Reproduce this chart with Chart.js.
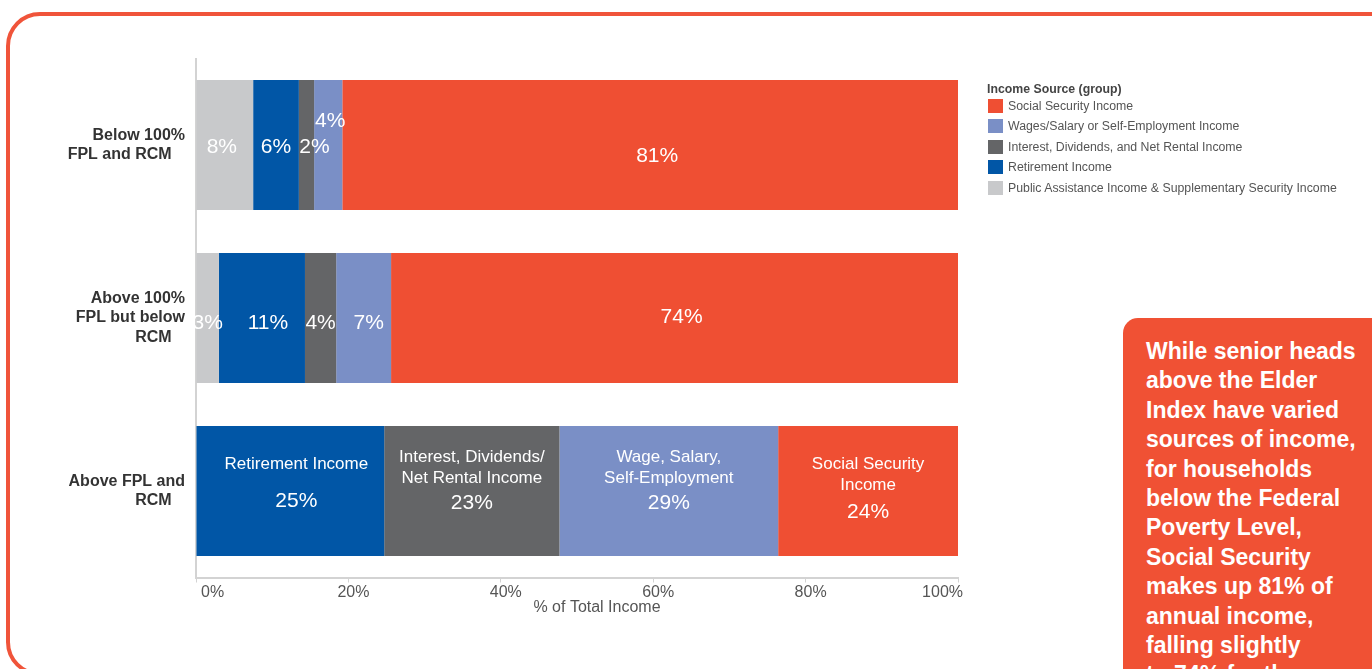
<!DOCTYPE html>
<html>
<head>
<meta charset="utf-8">
<title>Income Source by Elder Index Group</title>
<script src="https://cdn.jsdelivr.net/npm/chart.js@4.4.1/dist/chart.umd.min.js"></script>
<style>
  html, body { margin: 0; padding: 0; width: 1372px; height: 669px; overflow: hidden; background: #fff;
    font-family: Arial, "Liberation Sans", sans-serif; }
  #frame { position: absolute; left: 6px; top: 12px; width: 1420px; height: 664px; box-sizing: border-box;
    border: 4.5px solid #F0543A; border-radius: 34px; }
  #chart { position: absolute; left: 0; top: 0; }
  #legend { position: absolute; left: 987px; top: 83px; color: #555; font-size: 12.3px; }
  #legend .title { font-weight: bold; color: #444; height: 13px; line-height: 13px; margin-bottom: -0.8px; }
  #legend .item { display: flex; align-items: center; height: 20.6px; }
  #legend .sw { width: 15px; height: 14px; margin-left: 1px; margin-right: 5px; }
  #callout { position: absolute; left: 1123px; top: 318px; width: 320px; height: 420px; box-sizing: border-box;
    background: #F05134; border-radius: 15px 0 0 0; color: #fff; font-weight: bold; font-size: 23px;
    line-height: 29.4px; padding: 19px 0 0 23px; white-space: nowrap; }
</style>
</head>
<body>
<div id="frame"></div>
<canvas id="chart" width="1372" height="669"></canvas>
<div id="legend"></div>
<div id="callout"></div>
<script>
// Household groups (y axis), one multi-line label per bar
const categories = [
  ["Below 100%", "FPL and RCM   "],
  ["Above 100%", "FPL but below", "RCM   "],
  ["Above FPL and", "RCM   "]
];

// Share of total income (%) by source, in stacking order left to right
const publicAssistance = [7.5, 3.0, 0];
const retirement       = [6.0, 11.3, 24.7];
const interest         = [2.0, 4.1, 23.0];
const wages            = [3.7, 7.2, 28.7];
const socialSecurity   = [80.8, 74.4, 23.6];

const seriesNames = [
  "Public Assistance Income & Supplementary Security Income",
  "Retirement Income",
  "Interest, Dividends, and Net Rental Income",
  "Wages/Salary or Self-Employment Income",
  "Social Security Income"
];
const seriesColors = ["#C8C9CB", "#0156A6", "#646567", "#7A8FC6", "#EF4F33"];

// In-bar captions for the "Above FPL and RCM" bar
const aboveRcmCaptions = [
  [],
  ["Retirement Income"],
  ["Interest, Dividends/", "Net Rental Income"],
  ["Wage, Salary,", "Self-Employment"],
  ["Social Security", "Income"]
];

const xTicks = [0, 20, 40, 60, 80, 100];
const legendTitle = "Income Source (group)";
const axisTitle = "% of Total Income";
const calloutLines = [
  "While senior heads", "above the Elder", "Index have varied", "sources of income,",
  "for households", "below the Federal", "Poverty Level,", "Social Security",
  "makes up 81% of", "annual income,", "falling slightly", "to 74% for those"
];

const FONT = 'Arial, "Liberation Sans", sans-serif';

// label nudges [row][series] -> [dx, dy] so small segments don't collide
const labelNudge = [
  [[-3, 2.5], [0, 2.5], [8, 2.5], [2, -23.5], [7, 11.5]],
  [[0, 5.5], [6, 5.5], [0, 5.5], [5, 5.5], [7, -0.5]],
  [[0, 0], [0, 0], [0, 0], [0, 0], [0, 0]]
];
// caption layout for the third bar: first line offset, pct offset, dx
const captionLayout = [
  null,
  { lines: -27, pct: 10, dx: 6 },
  { lines: -34, pct: 12, dx: 0 },
  { lines: -34, pct: 12, dx: 0 },
  { lines: -27, pct: 21, dx: 0 }
];

const seriesValues = [publicAssistance, retirement, interest, wages, socialSecurity];

const segmentLabels = {
  id: 'segmentLabels',
  afterDatasetsDraw(chart) {
    const ctx = chart.ctx;
    ctx.save();
    ctx.fillStyle = '#fff';
    ctx.textAlign = 'center';
    ctx.textBaseline = 'middle';
    chart.data.datasets.forEach((ds, di) => {
      const meta = chart.getDatasetMeta(di);
      meta.data.forEach((bar, ri) => {
        const v = ds.data[ri];
        if (!v) return;
        const cx = (bar.base + bar.x) / 2;
        const cy = bar.y;
        const pct = Math.round(v) + '%';
        if (ri === 2) {
          const lay = captionLayout[di];
          ctx.font = '17px ' + FONT;
          aboveRcmCaptions[di].forEach((t, li) => {
            ctx.fillText(t, cx + lay.dx, cy + lay.lines + li * 21);
          });
          ctx.font = '21px ' + FONT;
          ctx.fillText(pct, cx + lay.dx, cy + lay.pct);
        } else {
          const [dx, dy] = labelNudge[ri][di];
          ctx.font = '21px ' + FONT;
          ctx.fillText(pct, cx + dx, cy + dy);
        }
      });
    });
    ctx.restore();
  }
};

const xAxisTitle = {
  id: 'xAxisTitle',
  afterDraw(chart) {
    const ctx = chart.ctx, a = chart.chartArea;
    ctx.save();
    ctx.font = '16px ' + FONT;
    ctx.fillStyle = '#555';
    ctx.textAlign = 'center';
    ctx.textBaseline = 'middle';
    ctx.fillText(axisTitle, (a.left + a.right) / 2 + 20, 608);
    ctx.restore();
  }
};

const chart = new Chart(document.getElementById('chart'), {
  type: 'bar',
  data: {
    labels: categories,
    datasets: seriesValues.map((vals, i) => ({
      label: seriesNames[i],
      data: vals,
      backgroundColor: seriesColors[i],
      borderWidth: 0,
      barPercentage: 0.7514,
      categoryPercentage: 1
    }))
  },
  options: {
    indexAxis: 'y',
    responsive: false,
    animation: false,
    devicePixelRatio: 1,
    layout: { padding: { left: 0, top: 58.5, right: 414, bottom: 0 } },
    plugins: { legend: { display: false }, tooltip: { enabled: false } },
    scales: {
      x: {
        type: 'linear', min: 0, max: 100, stacked: true,
        afterBuildTicks: s => { s.ticks = xTicks.map(v => ({ value: v })); },
        afterFit: s => { s.height = 91.5; },
        ticks: {
          callback: v => v + '%', align: 'inner', labelOffset: 5, padding: 0,
          maxRotation: 0, color: '#555', font: { size: 16, family: FONT }
        },
        grid: { display: true, drawOnChartArea: false, drawTicks: true, tickLength: 5, color: '#d3d3d3', lineWidth: 1 },
        border: { display: true, color: '#d3d3d3', width: 2 }
      },
      y: {
        type: 'category', stacked: true,
        afterFit: s => { s.width = 196; },
        ticks: { color: '#333', padding: 11, font: { size: 16, weight: 'bold', family: FONT, lineHeight: 1.22 } },
        grid: { display: false, drawTicks: false },
        border: { display: true, color: '#d3d3d3', width: 2 }
      }
    }
  },
  plugins: [segmentLabels, xAxisTitle]
});

// legend lists the sources from the right-most segment to the left-most
const legend = document.getElementById('legend');
const lt = document.createElement('div');
lt.className = 'title';
lt.textContent = legendTitle;
legend.appendChild(lt);
chart.data.datasets.slice().reverse().forEach(ds => {
  const row = document.createElement('div');
  row.className = 'item';
  const sw = document.createElement('div');
  sw.className = 'sw';
  sw.style.background = ds.backgroundColor;
  const tx = document.createElement('span');
  tx.textContent = ds.label;
  row.appendChild(sw);
  row.appendChild(tx);
  legend.appendChild(row);
});

document.getElementById('callout').innerHTML = calloutLines.join('<br>');
</script>
</body>
</html>
